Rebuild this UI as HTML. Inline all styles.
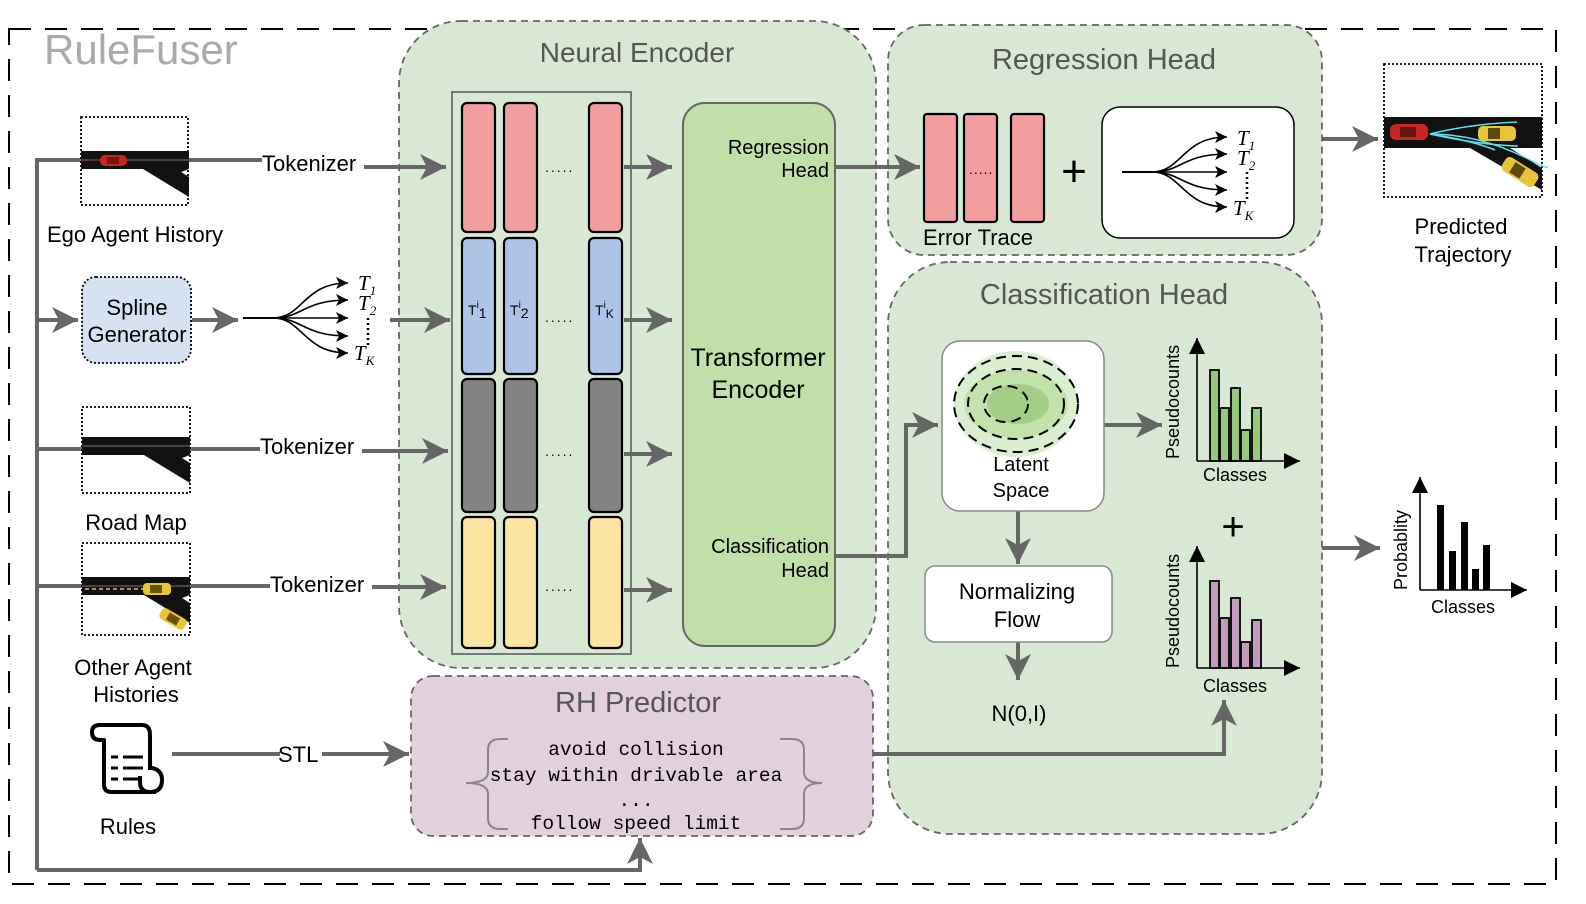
<!DOCTYPE html>
<html><head><meta charset="utf-8"><style>
html,body{margin:0;padding:0;background:#fff}
svg{display:block}
text{font-family:"Liberation Sans",Arial,sans-serif}
.m text{font-family:"Liberation Mono",monospace}
.s text{font-family:"Liberation Serif",serif;font-style:italic}
</style></head><body>
<svg width="1586" height="904" viewBox="0 0 1586 904" xmlns="http://www.w3.org/2000/svg">
<defs>
<marker id="ga" markerUnits="userSpaceOnUse" markerWidth="30" markerHeight="26" refX="26" refY="13" orient="auto"><path d="M0,0 L26,13 L0,26 L7,13 Z" fill="#666"/></marker>
<marker id="ka" markerUnits="userSpaceOnUse" markerWidth="14" markerHeight="12" refX="12" refY="6" orient="auto"><path d="M0,0 L12,6 L0,12 L3,6 Z" fill="#000"/></marker>
<marker id="kb" markerUnits="userSpaceOnUse" markerWidth="18" markerHeight="16" refX="16" refY="8" orient="auto"><path d="M0,0 L16,8 L0,16 Z" fill="#000"/></marker>
<g id="fan" fill="none" stroke="#000" stroke-width="1.6">
<path d="M0,0 H30 C60,0 60,-35 105,-35" marker-end="url(#ka)"/>
<path d="M0,0 H30 C60,0 60,-18 105,-18" marker-end="url(#ka)"/>
<path d="M0,0 H105" marker-end="url(#ka)"/>
<path d="M0,0 H30 C60,0 60,18 105,18" marker-end="url(#ka)"/>
<path d="M0,0 H30 C60,0 60,35 105,35" marker-end="url(#ka)"/>
<path d="M125,0 V30" stroke-dasharray="2,3" stroke-width="2.5"/>
</g>
<g id="road">
<rect x="0" y="34" width="108" height="18" fill="#111"/>
<path d="M70,52 L108,76 L108,60 L100,55 L108,52 Z" fill="#111"/>
<path d="M62,52 L108,80 L108,66 L76,47 Z" fill="#111"/>
<line x1="0" y1="43" x2="108" y2="43" stroke="#777" stroke-width="1"/>
</g>
</defs>

<rect x="9" y="29" width="1547" height="855" fill="none" stroke="#000" stroke-width="2" stroke-dasharray="22,14"/>
<text x="44" y="64" font-size="42" fill="#aaa">RuleFuser</text>

<rect x="399" y="21" width="477" height="647" rx="62" fill="#d9e8d5" stroke="#666" stroke-width="1.8" stroke-dasharray="7,5"/>
<text x="637" y="62" font-size="28" fill="#555" text-anchor="middle">Neural Encoder</text>
<rect x="888" y="25" width="434" height="230" rx="36" fill="#d9e8d5" stroke="#666" stroke-width="1.8" stroke-dasharray="7,5"/>
<text x="1104" y="69" font-size="29" fill="#555" text-anchor="middle">Regression Head</text>
<rect x="888" y="262" width="434" height="572" rx="62" fill="#d9e8d5" stroke="#666" stroke-width="1.8" stroke-dasharray="7,5"/>
<text x="1104" y="304" font-size="29" fill="#555" text-anchor="middle">Classification Head</text>
<rect x="411" y="676" width="462" height="160" rx="22" fill="#e2d0dc" stroke="#666" stroke-width="1.8" stroke-dasharray="7,5"/>
<text x="638" y="712" font-size="29" fill="#555" text-anchor="middle">RH Predictor</text>

<rect x="452" y="92" width="179" height="562" fill="none" stroke="#777" stroke-width="2"/>
<g stroke="#000" stroke-width="2.2">
<rect x="462" y="103" width="33" height="129" rx="5" fill="#f29e9e"/>
<rect x="504" y="103" width="33" height="129" rx="5" fill="#f29e9e"/>
<rect x="589" y="103" width="33" height="129" rx="5" fill="#f29e9e"/>
<rect x="462" y="238" width="33" height="136" rx="5" fill="#aec3e8"/>
<rect x="504" y="238" width="33" height="136" rx="5" fill="#aec3e8"/>
<rect x="589" y="238" width="33" height="136" rx="5" fill="#aec3e8"/>
<rect x="462" y="379" width="33" height="133" rx="5" fill="#838383"/>
<rect x="504" y="379" width="33" height="133" rx="5" fill="#838383"/>
<rect x="589" y="379" width="33" height="133" rx="5" fill="#838383"/>
<rect x="462" y="517" width="33" height="131" rx="5" fill="#fbe5a0"/>
<rect x="504" y="517" width="33" height="131" rx="5" fill="#fbe5a0"/>
<rect x="589" y="517" width="33" height="131" rx="5" fill="#fbe5a0"/>
</g>
<g font-size="14">
<text x="545" y="172" letter-spacing="2">.....</text>
<text x="545" y="322" letter-spacing="2">.....</text>
<text x="545" y="456" letter-spacing="2">.....</text>
<text x="545" y="591" letter-spacing="2">.....</text>
<text x="468" y="315">T<tspan font-size="10" dy="-7">i</tspan><tspan dy="10">1</tspan></text>
<text x="510" y="315">T<tspan font-size="10" dy="-7">i</tspan><tspan dy="10">2</tspan></text>
<text x="595" y="315">T<tspan font-size="10" dy="-7">i</tspan><tspan dy="10" font-size="12">K</tspan></text>
</g>

<rect x="683" y="103" width="152" height="543" rx="22" fill="#c1dfa9" stroke="#666" stroke-width="2"/>
<g font-size="20" text-anchor="end">
<text x="829" y="154">Regression</text><text x="829" y="177">Head</text>
<text x="829" y="553">Classification</text><text x="829" y="577">Head</text>
</g>
<text x="758" y="366" font-size="25" text-anchor="middle">Transformer</text>
<text x="758" y="398" font-size="25" text-anchor="middle">Encoder</text>

<g stroke="#666" stroke-width="4" fill="none">
<path d="M37,870 V160 H262"/>
<path d="M364,167 H446" marker-end="url(#ga)"/>
<path d="M37,320 H78" marker-end="url(#ga)"/>
<path d="M192,320 H238" marker-end="url(#ga)"/>
<path d="M390,320 H450" marker-end="url(#ga)"/>
<path d="M37,449 H260"/>
<path d="M362,451 H448" marker-end="url(#ga)"/>
<path d="M37,586 H270"/>
<path d="M372,587 H446" marker-end="url(#ga)"/>
<path d="M172,754 H280"/>
<path d="M322,754 H409" marker-end="url(#ga)"/>
<path d="M37,870 H640 V838" marker-end="url(#ga)"/>
<path d="M624,167 H672" marker-end="url(#ga)"/>
<path d="M624,320 H672" marker-end="url(#ga)"/>
<path d="M624,454 H672" marker-end="url(#ga)"/>
<path d="M624,590 H672" marker-end="url(#ga)"/>
<path d="M835,167 H920" marker-end="url(#ga)"/>
<path d="M835,556 H906 V425 H938" marker-end="url(#ga)"/>
<path d="M1104,425 H1162" marker-end="url(#ga)"/>
<path d="M1018,511 V564" marker-end="url(#ga)"/>
<path d="M1018,642 V680" marker-end="url(#ga)"/>
<path d="M873,754 H1224 V700" marker-end="url(#ga)"/>
<path d="M1322,139 H1378" marker-end="url(#ga)"/>
<path d="M1322,548 H1380" marker-end="url(#ga)"/>
</g>
<g font-size="22">
<text x="262" y="171">Tokenizer</text>
<text x="260" y="454">Tokenizer</text>
<text x="270" y="592">Tokenizer</text>
<text x="278" y="762">STL</text>
</g>

<rect x="81" y="117" width="107" height="88" fill="#fff" stroke="#000" stroke-width="1.8" stroke-dasharray="2,2"/>
<use href="#road" x="81" y="117"/>
<path d="M85,160 H100" stroke="#c33" stroke-width="1" stroke-dasharray="2,2"/>
<rect x="100" y="155" width="27" height="11" rx="5" fill="#c62820"/>
<rect x="107" y="157" width="12" height="7" fill="#7a1410"/>
<text x="135" y="242" font-size="22" text-anchor="middle">Ego Agent History</text>

<rect x="82" y="277" width="109" height="86" rx="14" fill="#d6e2f2" stroke="#000" stroke-width="1.8" stroke-dasharray="2,2"/>
<text x="137" y="315" font-size="22" text-anchor="middle">Spline</text>
<text x="137" y="342" font-size="22" text-anchor="middle">Generator</text>
<use href="#fan" x="243" y="318"/>
<g class="s" font-size="21">
<text x="358" y="290">T<tspan font-size="13" dy="5">1</tspan></text>
<text x="358" y="310">T<tspan font-size="13" dy="5">2</tspan></text>
<text x="354" y="360">T<tspan font-size="13" dy="5">K</tspan></text>
</g>

<rect x="82" y="407" width="108" height="86" fill="#fff" stroke="#000" stroke-width="1.8" stroke-dasharray="2,2"/>
<use href="#road" x="82" y="403"/>
<text x="136" y="530" font-size="22" text-anchor="middle">Road Map</text>

<rect x="82" y="543" width="108" height="92" fill="#fff" stroke="#000" stroke-width="1.8" stroke-dasharray="2,2"/>
<use href="#road" x="82" y="543"/>
<path d="M85,589 H145" stroke="#e6c23a" stroke-width="1.5" stroke-dasharray="4,3"/>
<rect x="143" y="583" width="28" height="12" rx="4" fill="#e8c439"/>
<rect x="150" y="585" width="12" height="8" fill="#6a5510"/>
<g transform="translate(173,619) rotate(30)"><rect x="-14" y="-6" width="28" height="12" rx="4" fill="#e8c439"/><rect x="-6" y="-4" width="12" height="8" fill="#6a5510"/></g>
<text x="133" y="675" font-size="22" text-anchor="middle">Other Agent</text>
<text x="136" y="702" font-size="22" text-anchor="middle">Histories</text>

<g fill="none" stroke="#000" stroke-width="4" stroke-linejoin="round">
<path d="M100,725 H142 Q150,725 150,735 V768"/>
<path d="M100,725 Q92,725 92,732 Q92,740 100,740 H104 V785 Q104,792 112,792 H156"/>
<path d="M148,768 H152 Q162,770 162,780 Q162,792 150,792 Q140,792 140,782 V776"/>
<path d="M111,757 H118 M123,757 H143 M111,768 H118 M123,768 H143 M111,779 H118 M123,779 H138" stroke-width="3"/>
</g>
<text x="128" y="834" font-size="22" text-anchor="middle">Rules</text>

<g class="m" font-size="19.5" text-anchor="middle">
<text x="636" y="755">avoid collision</text>
<text x="636" y="781">stay within drivable area</text>
<text x="636" y="806">...</text>
<text x="636" y="829">follow speed limit</text>
</g>
<g fill="none" stroke="#888" stroke-width="2">
<path d="M508,739 H500 Q488,739 488,750 V772 Q488,783 466,783 Q488,783 488,794 V818 Q488,829 500,829 H508"/>
<path d="M780,739 H792 Q804,739 804,750 V772 Q804,783 822,783 Q804,783 804,794 V818 Q804,829 792,829 H780"/>
</g>

<g stroke="#000" stroke-width="2.2" fill="#f29e9e">
<rect x="924" y="114" width="33" height="108" rx="3"/>
<rect x="964" y="114" width="33" height="108" rx="3"/>
<rect x="1011" y="114" width="33" height="108" rx="3"/>
</g>
<text x="969" y="174" font-size="14" letter-spacing="1">.....</text>
<text x="978" y="245" font-size="22" text-anchor="middle">Error Trace</text>
<text x="1074" y="186" font-size="44" text-anchor="middle">+</text>
<rect x="1102" y="107" width="192" height="131" rx="18" fill="#fff" stroke="#000" stroke-width="1.5"/>
<use href="#fan" x="1122" y="172"/>
<g class="s" font-size="21">
<text x="1237" y="145">T<tspan font-size="13" dy="5">1</tspan></text>
<text x="1237" y="165">T<tspan font-size="13" dy="5">2</tspan></text>
<text x="1233" y="215">T<tspan font-size="13" dy="5">K</tspan></text>
</g>

<rect x="1384" y="64" width="158" height="133" fill="#fff" stroke="#000" stroke-width="1.8" stroke-dasharray="2,2"/>
<rect x="1384" y="117" width="158" height="31" fill="#111"/>
<path d="M1470,148 L1542,190 L1542,168 L1510,148 Z" fill="#111"/>
<rect x="1390" y="124" width="38" height="16" rx="6" fill="#c62820"/>
<rect x="1400" y="127" width="16" height="10" fill="#6a1410"/>
<g fill="none" stroke="#5ee0ee" stroke-width="1.5">
<path d="M1430,134 Q1470,124 1517,122"/><path d="M1430,134 Q1480,134 1530,160 Q1540,165 1548,168"/>
<path d="M1430,134 Q1480,145 1518,146"/><path d="M1430,134 Q1470,140 1495,150"/>
</g>
<rect x="1478" y="126" width="38" height="15" rx="5" fill="#e8c439"/>
<rect x="1488" y="128" width="12" height="11" fill="#5a4a10"/>
<g transform="translate(1520,172) rotate(32)"><rect x="-19" y="-8" width="38" height="16" rx="5" fill="#e8c439"/><rect x="-9" y="-6" width="12" height="12" fill="#5a4a10"/></g>
<text x="1461" y="234" font-size="22" text-anchor="middle">Predicted</text>
<text x="1463" y="262" font-size="22" text-anchor="middle">Trajectory</text>

<rect x="942" y="341" width="162" height="170" rx="18" fill="#fff" stroke="#888" stroke-width="1.5"/>
<ellipse cx="1016" cy="404" rx="62" ry="53" fill="#dbeecf"/>
<ellipse cx="1016" cy="404" rx="52" ry="34" fill="#c2e1ab"/>
<ellipse cx="1018" cy="404" rx="31" ry="20" fill="#a2cf85"/>
<g fill="none" stroke="#000" stroke-width="2" stroke-dasharray="10,6">
<ellipse cx="1016" cy="404" rx="62" ry="48"/>
<ellipse cx="1016" cy="404" rx="48" ry="35"/>
<ellipse cx="1006" cy="404" rx="22" ry="18"/>
</g>
<text x="1021" y="471" font-size="20" text-anchor="middle">Latent</text>
<text x="1021" y="497" font-size="20" text-anchor="middle">Space</text>
<rect x="925" y="566" width="187" height="76" rx="10" fill="#fff" stroke="#888" stroke-width="1.5"/>
<text x="1017" y="599" font-size="22" text-anchor="middle">Normalizing</text>
<text x="1017" y="627" font-size="22" text-anchor="middle">Flow</text>
<text x="1019" y="721" font-size="22" text-anchor="middle">N(0,I)</text>

<g stroke="#000" stroke-width="1.6">
<path d="M1197,461 V338" marker-end="url(#kb)" fill="none"/>
<path d="M1197,461 H1300" marker-end="url(#kb)" fill="none"/>
<g fill="#96c87a" stroke-width="1.8"><rect x="1210" y="370" width="9" height="91"/><rect x="1220" y="408" width="9" height="53"/><rect x="1231" y="388" width="9" height="73"/><rect x="1241" y="430" width="9" height="31"/><rect x="1252" y="408" width="9" height="53"/></g>
</g>
<g stroke="#000" stroke-width="1.6">
<path d="M1197,668 V546" marker-end="url(#kb)" fill="none"/>
<path d="M1197,668 H1300" marker-end="url(#kb)" fill="none"/>
<g fill="#c29bbd" stroke-width="1.8"><rect x="1210" y="581" width="9" height="87"/><rect x="1220" y="618" width="9" height="50"/><rect x="1231" y="598" width="9" height="70"/><rect x="1241" y="642" width="9" height="26"/><rect x="1252" y="620" width="9" height="48"/></g>
</g>
<text x="0" y="0" font-size="18" transform="translate(1179,459) rotate(-90)">Pseudocounts</text>
<text x="0" y="0" font-size="18" transform="translate(1179,668) rotate(-90)">Pseudocounts</text>
<text x="1235" y="481" font-size="18" text-anchor="middle">Classes</text>
<text x="1235" y="692" font-size="18" text-anchor="middle">Classes</text>
<text x="1233" y="540" font-size="40" text-anchor="middle">+</text>

<g stroke="#000" stroke-width="1.6" fill="none">
<path d="M1420,590 V477" marker-end="url(#kb)"/>
<path d="M1420,590 H1527" marker-end="url(#kb)"/>
</g>
<g fill="#000"><rect x="1437" y="505" width="7" height="85"/><rect x="1449" y="551" width="7" height="39"/><rect x="1461" y="522" width="7" height="68"/><rect x="1472" y="569" width="7" height="21"/><rect x="1483" y="545" width="7" height="45"/></g>
<text x="0" y="0" font-size="18" transform="translate(1407,590) rotate(-90)">Probablity</text>
<text x="1463" y="613" font-size="18" text-anchor="middle">Classes</text>
</svg>
</body></html>
